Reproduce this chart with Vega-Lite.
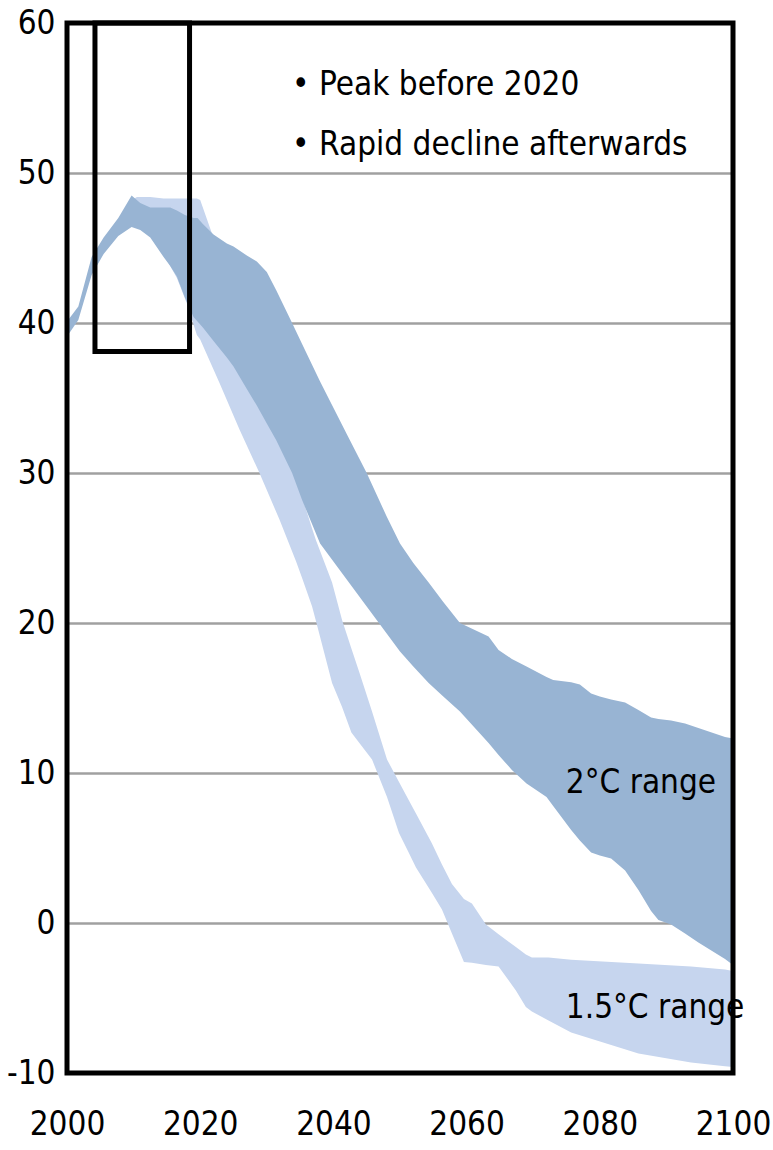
{
  "$schema": "https://vega.github.io/schema/vega-lite/v6.json",
  "autosize": {"type": "none"},
  "padding": {"left": 67, "top": 23, "right": 40, "bottom": 77},
  "width": 666,
  "height": 1050,
  "background": "white",
  "config": {
    "view": {"stroke": null},
    "font": "DejaVu Sans Condensed, DejaVu Sans, sans-serif"
  },
  "datasets": {
    "band20": [
      {"year": 2000, "lo": 39.1, "hi": 40.1},
      {"year": 2001.7, "lo": 40.2, "hi": 41.1},
      {"year": 2003.7, "lo": 43.2, "hi": 44.4},
      {"year": 2005.5, "lo": 44.6, "hi": 45.7},
      {"year": 2007.7, "lo": 45.8, "hi": 47.0},
      {"year": 2009.7, "lo": 46.4, "hi": 48.5},
      {"year": 2011, "lo": 46.2, "hi": 48.0},
      {"year": 2012.5, "lo": 45.7, "hi": 47.7},
      {"year": 2014.5, "lo": 44.4, "hi": 47.7},
      {"year": 2015.5, "lo": 43.8, "hi": 47.7},
      {"year": 2016.5, "lo": 43.1, "hi": 47.5},
      {"year": 2017.7, "lo": 41.7, "hi": 47.2},
      {"year": 2019, "lo": 40.4, "hi": 47.0},
      {"year": 2019.6, "lo": 40.1, "hi": 47.0},
      {"year": 2020.4, "lo": 39.7, "hi": 46.6},
      {"year": 2022, "lo": 38.8, "hi": 45.9},
      {"year": 2024, "lo": 37.7, "hi": 45.3},
      {"year": 2025, "lo": 37.1, "hi": 45.1},
      {"year": 2027, "lo": 35.6, "hi": 44.5},
      {"year": 2028.5, "lo": 34.5, "hi": 44.1},
      {"year": 2030, "lo": 33.3, "hi": 43.4},
      {"year": 2031.4, "lo": 32.2, "hi": 42.2},
      {"year": 2033.8, "lo": 30.0, "hi": 40.0},
      {"year": 2035.3, "lo": 28.2, "hi": 38.6},
      {"year": 2038, "lo": 25.3, "hi": 36.1},
      {"year": 2042, "lo": 22.9, "hi": 32.6},
      {"year": 2045, "lo": 21.1, "hi": 30.0},
      {"year": 2048, "lo": 19.3, "hi": 27.1},
      {"year": 2050, "lo": 18.1, "hi": 25.3},
      {"year": 2052, "lo": 17.1, "hi": 24.0},
      {"year": 2054.3, "lo": 16.0, "hi": 22.7},
      {"year": 2056.5, "lo": 15.1, "hi": 21.4},
      {"year": 2059, "lo": 14.1, "hi": 20.0},
      {"year": 2063.3, "lo": 12.0, "hi": 19.1},
      {"year": 2064.8, "lo": 11.2, "hi": 18.2},
      {"year": 2066.8, "lo": 10.2, "hi": 17.6},
      {"year": 2069, "lo": 9.3, "hi": 17.1},
      {"year": 2072, "lo": 8.4, "hi": 16.4},
      {"year": 2073, "lo": 7.8, "hi": 16.2},
      {"year": 2075.7, "lo": 6.2, "hi": 16.05},
      {"year": 2077, "lo": 5.5, "hi": 15.9},
      {"year": 2078.7, "lo": 4.7, "hi": 15.3},
      {"year": 2080, "lo": 4.5, "hi": 15.1},
      {"year": 2081.7, "lo": 4.3, "hi": 14.9},
      {"year": 2083.8, "lo": 3.5, "hi": 14.7},
      {"year": 2085.8, "lo": 2.2, "hi": 14.2},
      {"year": 2087.7, "lo": 0.8, "hi": 13.7},
      {"year": 2088.8, "lo": 0.2, "hi": 13.6},
      {"year": 2090.7, "lo": -0.1, "hi": 13.5},
      {"year": 2092.8, "lo": -0.7, "hi": 13.3},
      {"year": 2094.8, "lo": -1.3, "hi": 13.0},
      {"year": 2098.8, "lo": -2.4, "hi": 12.4},
      {"year": 2100, "lo": -2.8, "hi": 12.3}
    ],
    "band15": [
      {"year": 2000, "lo": 39.3, "hi": 39.9},
      {"year": 2001.7, "lo": 40.4, "hi": 40.9},
      {"year": 2003.7, "lo": 43.4, "hi": 44.2},
      {"year": 2005.5, "lo": 44.8, "hi": 45.5},
      {"year": 2007.7, "lo": 46.0, "hi": 46.8},
      {"year": 2009.7, "lo": 46.6, "hi": 48.2},
      {"year": 2010.5, "lo": 46.5, "hi": 48.4},
      {"year": 2012.5, "lo": 45.9, "hi": 48.4},
      {"year": 2014.5, "lo": 44.6, "hi": 48.3},
      {"year": 2016.5, "lo": 43.0, "hi": 48.3},
      {"year": 2018, "lo": 41.3, "hi": 48.3},
      {"year": 2019.5, "lo": 39.2, "hi": 48.3},
      {"year": 2020, "lo": 38.9, "hi": 48.2},
      {"year": 2021.9, "lo": 37.0, "hi": 45.8},
      {"year": 2022.9, "lo": 36.0, "hi": 44.5},
      {"year": 2025.9, "lo": 32.9, "hi": 39.5},
      {"year": 2028.9, "lo": 30.0, "hi": 36.0},
      {"year": 2031.9, "lo": 26.9, "hi": 33.0},
      {"year": 2034.4, "lo": 24.1, "hi": 29.6},
      {"year": 2035.3, "lo": 23.0, "hi": 28.4},
      {"year": 2036.8, "lo": 21.1, "hi": 26.3},
      {"year": 2037.4, "lo": 20.1, "hi": 25.5},
      {"year": 2039.8, "lo": 16.0, "hi": 22.7},
      {"year": 2041.3, "lo": 14.4, "hi": 20.2},
      {"year": 2042.7, "lo": 12.7, "hi": 18.3},
      {"year": 2043.9, "lo": 12.0, "hi": 16.7},
      {"year": 2045.8, "lo": 10.9, "hi": 14.1},
      {"year": 2048.05, "lo": 8.4, "hi": 10.9},
      {"year": 2049.85, "lo": 6.0, "hi": 9.4},
      {"year": 2051.3, "lo": 4.7, "hi": 8.2},
      {"year": 2052.4, "lo": 3.7, "hi": 7.3},
      {"year": 2054.8, "lo": 2.0, "hi": 5.3},
      {"year": 2056.3, "lo": 0.9, "hi": 3.9},
      {"year": 2057.8, "lo": -0.7, "hi": 2.6},
      {"year": 2059.6, "lo": -2.6, "hi": 1.6},
      {"year": 2060.8, "lo": -2.65, "hi": 1.3},
      {"year": 2062.9, "lo": -2.8, "hi": -0.1},
      {"year": 2064.8, "lo": -2.9, "hi": -0.75},
      {"year": 2067.4, "lo": -4.5, "hi": -1.6},
      {"year": 2068.9, "lo": -5.6, "hi": -2.1},
      {"year": 2069.8, "lo": -5.9, "hi": -2.3},
      {"year": 2072.3, "lo": -6.5, "hi": -2.3},
      {"year": 2075.7, "lo": -7.3, "hi": -2.45},
      {"year": 2085.8, "lo": -8.7, "hi": -2.7},
      {"year": 2093.7, "lo": -9.3, "hi": -2.9},
      {"year": 2098.8, "lo": -9.55, "hi": -3.1},
      {"year": 2100, "lo": -9.6, "hi": -3.2}
    ],
    "labels": [
      {"text": "• Peak before 2020", "year": 2033.8, "value": 55.2},
      {"text": "• Rapid decline afterwards", "year": 2033.8, "value": 51.2},
      {"text": "2°C range", "year": 2074.9, "value": 8.7},
      {"text": "1.5°C range", "year": 2074.9, "value": -6.3}
    ],
    "boxes": [
      {"name": "frame", "x1": 2000, "x2": 2100, "y1": -10, "y2": 60},
      {"name": "highlight", "x1": 2004.2, "x2": 2018.4, "y1": 38.1, "y2": 60}
    ]
  },
  "layer": [
    {
      "data": {"name": "band15"},
      "mark": {"type": "area", "color": "#C6D5EE", "opacity": 1},
      "encoding": {
        "x": {
          "field": "year", "type": "quantitative",
          "scale": {"domain": [2000, 2100], "nice": false, "zero": false},
          "axis": {
            "values": [2000, 2020, 2040, 2060, 2080, 2100],
            "title": null, "grid": false, "domain": false, "ticks": false,
            "labelFontSize": 33, "labelColor": "black", "labelPadding": 35,
            "labelFont": "DejaVu Sans Condensed, DejaVu Sans, sans-serif",
            "format": "d", "labelFlush": false, "labelOverlap": false
          }
        },
        "y": {
          "field": "hi", "type": "quantitative",
          "scale": {"domain": [-10, 60], "nice": false, "zero": false},
          "axis": {
            "values": [-10, 0, 10, 20, 30, 40, 50, 60],
            "title": null, "grid": true, "gridColor": "#a0a0a0", "gridWidth": 2.5, "gridOpacity": 1,
            "domain": false, "ticks": false,
            "labelExpr": "datum.value + ''",
            "labelFontSize": 33, "labelColor": "black", "labelPadding": 12,
            "labelFont": "DejaVu Sans Condensed, DejaVu Sans, sans-serif",
            "labelFlush": false, "labelOverlap": false
          }
        },
        "y2": {"field": "lo"}
      }
    },
    {
      "data": {"name": "band20"},
      "mark": {"type": "area", "color": "#98B4D3", "opacity": 1},
      "encoding": {
        "x": {"field": "year", "type": "quantitative"},
        "y": {"field": "hi", "type": "quantitative"},
        "y2": {"field": "lo"}
      }
    },
    {
      "data": {"name": "labels"},
      "mark": {
        "type": "text", "align": "left", "baseline": "alphabetic",
        "fontSize": 33, "color": "black",
        "font": "DejaVu Sans Condensed, DejaVu Sans, sans-serif"
      },
      "encoding": {
        "x": {"field": "year", "type": "quantitative"},
        "y": {"field": "value", "type": "quantitative"},
        "text": {"field": "text"}
      }
    },
    {
      "data": {"name": "boxes"},
      "mark": {"type": "rect", "fill": null, "fillOpacity": 0, "stroke": "black", "strokeWidth": 5},
      "encoding": {
        "x": {"field": "x1", "type": "quantitative"},
        "x2": {"field": "x2"},
        "y": {"field": "y1", "type": "quantitative"},
        "y2": {"field": "y2"}
      }
    }
  ]
}
